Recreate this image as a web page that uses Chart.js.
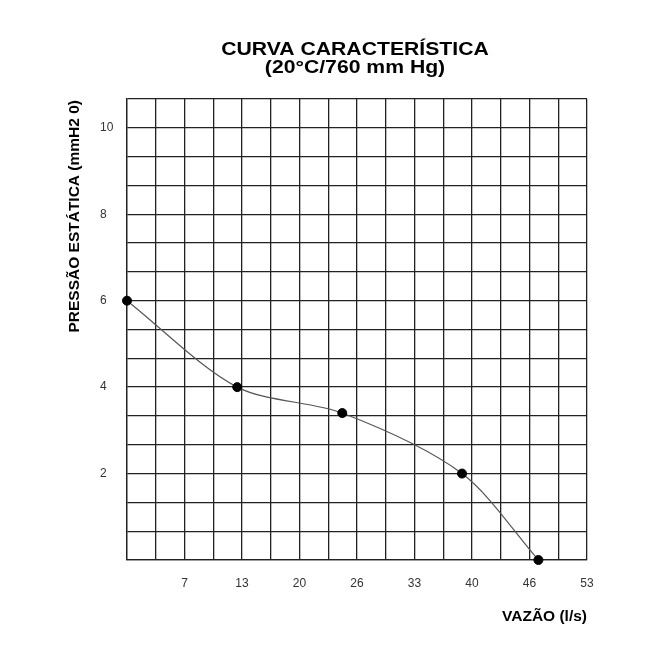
<!DOCTYPE html>
<html>
<head>
<meta charset="utf-8">
<script src="https://cdn.jsdelivr.net/npm/chart.js@4.4.1/dist/chart.umd.min.js"></script>
<style>
  html, body { margin: 0; padding: 0; background: #ffffff; }
  #wrap { width: 660px; height: 660px; position: relative; }
</style>
</head>
<body>
<div id="wrap"><canvas id="c" width="660" height="660"></canvas></div>
<script>
// ---- data ----
const titleLines = ['CURVA CARACTERÍSTICA', '(20°C/760 mm Hg)'];
const xAxisTitle = 'VAZÃO (l/s)';
const yAxisTitle = 'PRESSÃO ESTÁTICA (mmH2 0)';
const flowValues = [0, 12.7, 24.8, 38.6, 47.4];      // l/s
const pressureValues = [6, 4, 3.4, 2, 0];            // mm H2O
const xTickLabels = ['7', '13', '20', '26', '33', '40', '46', '53'];
const yTickLabels = ['2', '4', '6', '8', '10'];
const xMax = 53;
const xDivisions = 16;
const yMax = 32 / 3;
const yDivisions = 16;

const points = flowValues.map((x, i) => ({ x: x, y: pressureValues[i] }));

const gridColor = '#222222';
const fontFamily = '"Liberation Sans", Arial, Helvetica, sans-serif';

const titlePlugin = {
  id: 'titles',
  afterDraw(chart) {
    const ctx = chart.ctx;
    const area = chart.chartArea;
    const cx = (area.left + area.right) / 2 - 2;
    ctx.save();
    ctx.fillStyle = '#000';
    ctx.font = 'bold 18.5px ' + fontFamily;
    ctx.textAlign = 'center';
    ctx.textBaseline = 'alphabetic';
    const sx = 1.145;
    ctx.save();
    ctx.translate(cx, 0);
    ctx.scale(sx, 1);
    ctx.fillText(titleLines[0], 0, 55);
    ctx.fillText(titleLines[1], 0, 72.5);
    ctx.restore();
    // y axis title
    ctx.save();
    ctx.font = 'bold 15.5px ' + fontFamily;
    ctx.translate(75, area.top + 1);
    ctx.rotate(-Math.PI / 2);
    ctx.textAlign = 'right';
    ctx.textBaseline = 'middle';
    ctx.fillText(yAxisTitle, 0, 0);
    ctx.restore();
    ctx.restore();
  }
};

new Chart(document.getElementById('c'), {
  type: 'line',
  data: {
    datasets: [{
      data: points,
      borderColor: '#555555',
      borderWidth: 1.2,
      tension: 0.3,
      fill: false,
      pointRadius: 4.5,
      pointHoverRadius: 4.5,
      pointBorderWidth: 1,
      pointBackgroundColor: '#000',
      pointBorderColor: '#000',
      clip: false
    }]
  },
  options: {
    responsive: false,
    animation: false,
    events: [],
    layout: { padding: { top: 99, right: 73, left: 100, bottom: 30 } },
    plugins: { legend: { display: false }, tooltip: { enabled: false }, title: { display: false } },
    scales: {
      x: {
        type: 'linear',
        min: 0,
        max: xMax,
        afterBuildTicks(scale) {
          const t = [];
          for (let i = 0; i <= xDivisions; i++) t.push({ value: i * xMax / xDivisions });
          scale.ticks = t;
        },
        afterFit(scale) { scale.height = 70; },
        grid: { color: gridColor, lineWidth: 1.3, drawTicks: false },
        border: { display: true, color: gridColor, width: 1.3 },
        ticks: {
          padding: 16,
          color: '#333',
          font: { family: fontFamily, size: 12 },
          maxRotation: 0,
          autoSkip: false,
          callback(value, index) {
            if (index >= 2 && index % 2 === 0) return xTickLabels[index / 2 - 1];
            return '';
          }
        },
        title: {
          display: true,
          text: xAxisTitle,
          align: 'end',
          color: '#000',
          font: { family: fontFamily, size: 15.5, weight: 'bold' },
          padding: { top: 0, bottom: 4 }
        }
      },
      y: {
        type: 'linear',
        min: 0,
        max: yMax,
        afterBuildTicks(scale) {
          const t = [];
          for (let i = 0; i <= yDivisions; i++) t.push({ value: i * yMax / yDivisions });
          scale.ticks = t;
        },
        afterFit(scale) { scale.width = 27; },
        grid: { color: gridColor, lineWidth: 1.3, drawTicks: false },
        border: { display: true, color: gridColor, width: 1.3 },
        ticks: {
          padding: 14,
          crossAlign: 'far',
          color: '#333',
          font: { family: fontFamily, size: 12 },
          autoSkip: false,
          callback(value, index) {
            if (index > 0 && index % 3 === 0) return yTickLabels[index / 3 - 1];
            return '';
          }
        },
        title: { display: false }
      }
    }
  },
  plugins: [titlePlugin]
});
</script>
</body>
</html>
